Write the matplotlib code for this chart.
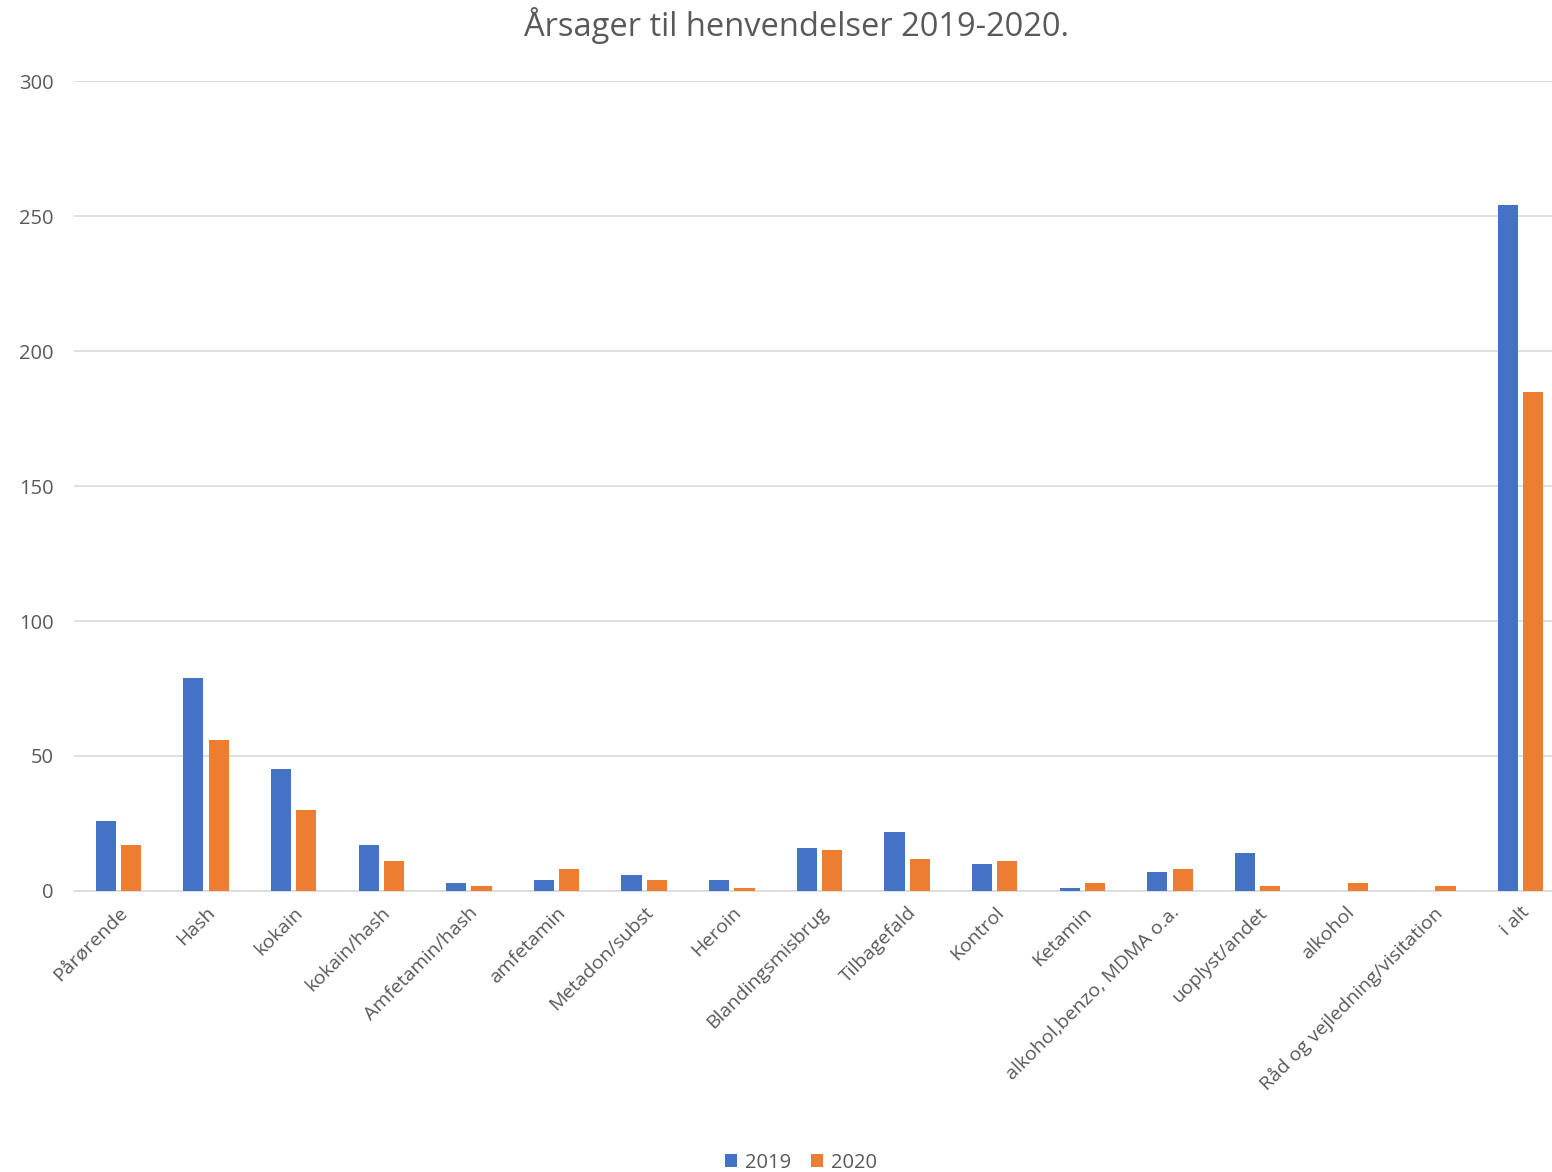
import numpy as np
import matplotlib.pyplot as plt

categories = ['Pårørende', 'Hash', 'kokain', 'kokain/hash', 'Amfetamin/hash',
              'amfetamin', 'Metadon/subst', 'Heroin', 'Blandingsmisbrug',
              'Tilbagefald', 'Kontrol', 'Ketamin', 'alkohol,benzo, MDMA o.a.',
              'uoplyst/andet', 'alkohol', 'Råd og vejledning/visitation', 'i alt']
values_2019 = [26, 79, 45, 17, 3, 4, 6, 4, 16, 22, 10, 1, 7, 14, 0, 0, 254]
values_2020 = [17, 56, 30, 11, 2, 8, 4, 1, 15, 12, 11, 3, 8, 2, 3, 2, 185]
yticks = [0, 50, 100, 150, 200, 250, 300]

plt.rcParams['font.family'] = ['Open Sans', 'DejaVu Sans']
text_col = '#595959'

fig = plt.figure(figsize=(15.52, 11.72), dpi=100)
ax = fig.add_axes([0.048, 0.2398, 0.960, 0.691])

x = np.arange(len(categories))
w = 0.23
ax.bar(x - 0.144, values_2019, width=w, color='#4472C4', label='2019', zorder=3)
ax.bar(x + 0.144, values_2020, width=w, color='#ED7D31', label='2020', zorder=3)

ax.set_xlim(-0.5, len(categories) - 0.5)
ax.set_ylim(0, 300)
ax.set_yticks(yticks)
ax.set_yticklabels([str(t) for t in yticks], fontsize=14.5, color=text_col)
ax.grid(axis='y', color='#D9D9D9', linewidth=1.2, zorder=0)
ax.set_xticks(x)
ax.set_xticklabels(categories, rotation=45, ha='right', rotation_mode='anchor',
                   fontsize=14, color=text_col)
ax.tick_params(axis='both', length=0)
ax.tick_params(axis='y', pad=15)
ax.tick_params(axis='x', pad=9)
for s in ['top', 'right', 'left']:
    ax.spines[s].set_visible(False)
ax.spines['bottom'].set_color('#D9D9D9')
ax.spines['bottom'].set_linewidth(1.2)

fig.text(0.5135, 0.978, 'Årsager til henvendelser 2019-2020.', fontsize=23.5,
         color=text_col, ha='center', va='center')

fig.legend(loc='lower center', bbox_to_anchor=(0.516, -0.016), ncol=2, frameon=False,
           fontsize=14.5, handlelength=0.6, handleheight=0.6, handletextpad=0.4,
           columnspacing=1.0, labelcolor=text_col)

fig.savefig('out.png', dpi=100)
